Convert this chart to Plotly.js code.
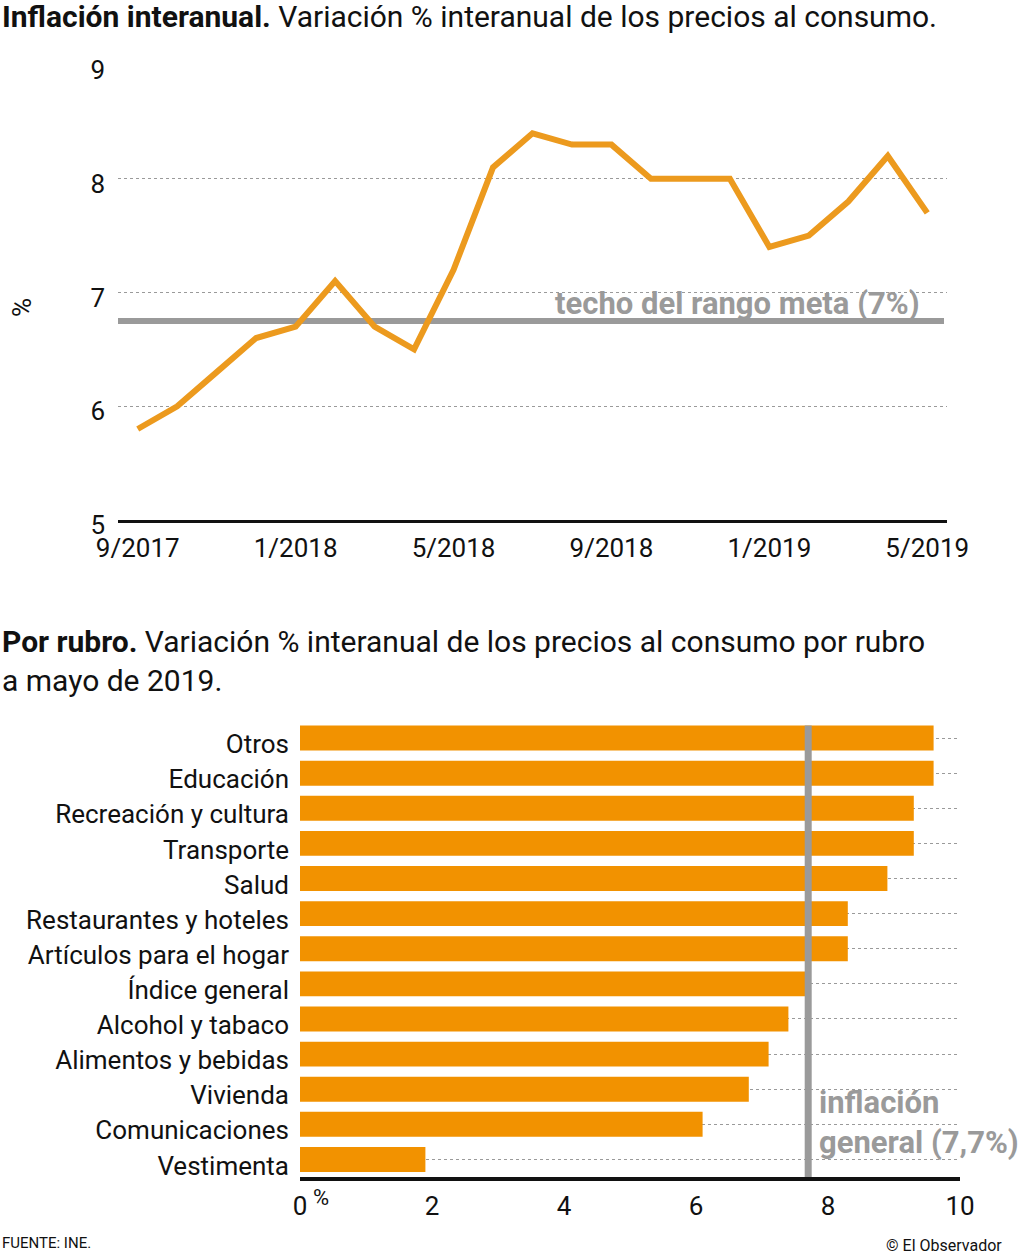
<!DOCTYPE html>
<html>
<head>
<meta charset="utf-8">
<script src="https://cdn.plot.ly/plotly-3.0.1.min.js"></script>
<style>
html,body{margin:0;padding:0;background:#fff;}
#chart{width:1024px;height:1257px;}
</style>
</head>
<body>
<div id="chart"></div>
<script>
// ---- Data: inflación interanual (%) ----
const months = ['2017-09','2017-10','2017-11','2017-12','2018-01','2018-02','2018-03','2018-04','2018-05','2018-06','2018-07','2018-08','2018-09','2018-10','2018-11','2018-12','2019-01','2019-02','2019-03','2019-04','2019-05'];
const inflation = [5.8, 6.0, 6.3, 6.6, 6.7, 7.1, 6.7, 6.5, 7.2, 8.1, 8.4, 8.3, 8.3, 8.0, 8.0, 8.0, 7.4, 7.5, 7.8, 8.2, 7.7];
const monthTickVals = ['2017-09','2018-01','2018-05','2018-09','2019-01','2019-05'];
const monthTickText = ['9/2017','1/2018','5/2018','9/2018','1/2019','5/2019'];
const targetCeiling = 6.75;

// ---- Data: por rubro (mayo 2019) ----
const rubros = ['Otros','Educación','Recreación y cultura','Transporte','Salud','Restaurantes y hoteles','Artículos para el hogar','Índice general','Alcohol y tabaco','Alimentos y bebidas','Vivienda','Comunicaciones','Vestimenta'];
const rubroValues = [9.6, 9.6, 9.3, 9.3, 8.9, 8.3, 8.3, 7.7, 7.4, 7.1, 6.8, 6.1, 1.9];
const generalInflation = 7.7;
const barTicks = [0, 2, 4, 6, 8, 10];

const FONT = 'Roboto, "Open Sans", sans-serif';
const W = 1024, H = 1257;
const px = v => v / W;
const py = v => 1 - v / H;

const ORANGE_LINE = '#EC9A1E';
const ORANGE_BAR = '#F29200';
const GRAY = '#9A9A9A';

const traces = [
  {
    type: 'scatter', mode: 'lines',
    x: months, y: inflation,
    xaxis: 'x', yaxis: 'y',
    line: {color: ORANGE_LINE, width: 6, shape: 'linear'},
    hoverinfo: 'skip', showlegend: false
  },
  {
    type: 'bar', orientation: 'h',
    x: rubroValues, y: rubros,
    xaxis: 'x2', yaxis: 'y2',
    marker: {color: ORANGE_BAR, line: {width: 0}},
    hoverinfo: 'skip', showlegend: false
  }
];

const layout = {
  width: W, height: H,
  margin: {l: 0, r: 0, t: 0, b: 0},
  paper_bgcolor: '#fff', plot_bgcolor: 'rgba(0,0,0,0)',
  font: {family: FONT, color: '#111', size: 26},
  bargap: 0.29,
  xaxis: {
    domain: [px(118), px(947)],
    anchor: 'y',
    type: 'category',
    categoryorder: 'array', categoryarray: months,
    range: [-0.5, months.length - 0.5],
    tickvals: monthTickVals, ticktext: monthTickText,
    showgrid: false, zeroline: false,
    showline: true, linecolor: '#111', linewidth: 3,
    ticks: '', ticklabelstandoff: 3,
    tickfont: {family: FONT, size: 26, color: '#111'}
  },
  yaxis: {
    domain: [py(520), py(65)],
    anchor: 'x',
    range: [5, 9], dtick: 1, tick0: 5,
    showgrid: true, gridcolor: '#9a9a9a', gridwidth: 1, griddash: '3px,3px',
    zeroline: false, showline: false,
    ticks: '', ticklabelstandoff: 12, ticklabelshift: 5,
    tickfont: {family: FONT, size: 26, color: '#111'}
  },
  xaxis2: {
    domain: [px(300), px(960)],
    anchor: 'y2',
    range: [0, 10],
    tickvals: barTicks,
    showgrid: false, zeroline: false,
    showline: true, linecolor: '#111', linewidth: 4,
    ticks: '', ticklabelstandoff: 3,
    tickfont: {family: FONT, size: 26, color: '#111'}
  },
  yaxis2: {
    domain: [py(1177), py(720.5)],
    anchor: 'x2',
    type: 'category',
    categoryorder: 'array', categoryarray: rubros,
    range: [rubros.length - 0.5, -0.5],
    showgrid: true, gridcolor: '#9a9a9a', gridwidth: 1, griddash: '3px,3px',
    zeroline: false, showline: false,
    ticks: '', ticklabelstandoff: 10, ticklabelshift: -6,
    tickfont: {family: FONT, size: 26, color: '#111'}
  },
  shapes: [
    {
      type: 'line', layer: 'below',
      xref: 'paper', yref: 'y',
      x0: px(118), x1: px(944), y0: targetCeiling, y1: targetCeiling,
      line: {color: GRAY, width: 6}
    },
    {
      type: 'line', layer: 'above',
      xref: 'x2', yref: 'paper',
      x0: generalInflation, x1: generalInflation, y0: py(1177), y1: py(725.5),
      line: {color: GRAY, width: 7}
    }
  ],
  annotations: [
    {
      xref: 'paper', yref: 'paper', x: 0, y: py(17), xanchor: 'left', yanchor: 'middle',
      text: '<b>Inflación interanual.</b> Variación % interanual de los precios al consumo.',
      showarrow: false, font: {family: FONT, size: 30, color: '#111'}, align: 'left'
    },
    {
      xref: 'paper', yref: 'paper', x: px(22), y: py(308), xanchor: 'center', yanchor: 'middle',
      text: '%', textangle: -90,
      showarrow: false, font: {family: FONT, size: 26, color: '#111'}
    },
    {
      xref: 'paper', yref: 'paper', x: px(737), y: py(303), xanchor: 'center', yanchor: 'middle',
      text: '<b>techo del rango meta (7%)</b>',
      showarrow: false, font: {family: FONT, size: 31, color: GRAY}
    },
    {
      xref: 'paper', yref: 'paper', x: 0, y: py(622), xanchor: 'left', yanchor: 'top',
      text: '<b>Por rubro.</b> Variación % interanual de los precios al consumo por rubro<br>a mayo de 2019.',
      showarrow: false, font: {family: FONT, size: 30, color: '#111'}, align: 'left'
    },
    {
      xref: 'paper', yref: 'paper', x: px(817), y: py(1122), xanchor: 'left', yanchor: 'middle',
      text: '<b>inflación<br>general (7,7%)</b>',
      showarrow: false, font: {family: FONT, size: 31, color: GRAY}, align: 'left'
    },
    {
      xref: 'paper', yref: 'paper', x: px(311), y: py(1197), xanchor: 'left', yanchor: 'middle',
      text: '%',
      showarrow: false, font: {family: FONT, size: 22, color: '#111'}
    },
    {
      xref: 'paper', yref: 'paper', x: 0, y: py(1243), xanchor: 'left', yanchor: 'middle',
      text: 'FUENTE: INE.',
      showarrow: false, font: {family: FONT, size: 15, color: '#111'}
    },
    {
      xref: 'paper', yref: 'paper', x: px(1004), y: py(1245), xanchor: 'right', yanchor: 'middle',
      text: '© El Observador',
      showarrow: false, font: {family: FONT, size: 16, color: '#111'}
    }
  ]
};

Plotly.newPlot('chart', traces, layout, {staticPlot: true, displayModeBar: false});
</script>
</body>
</html>
